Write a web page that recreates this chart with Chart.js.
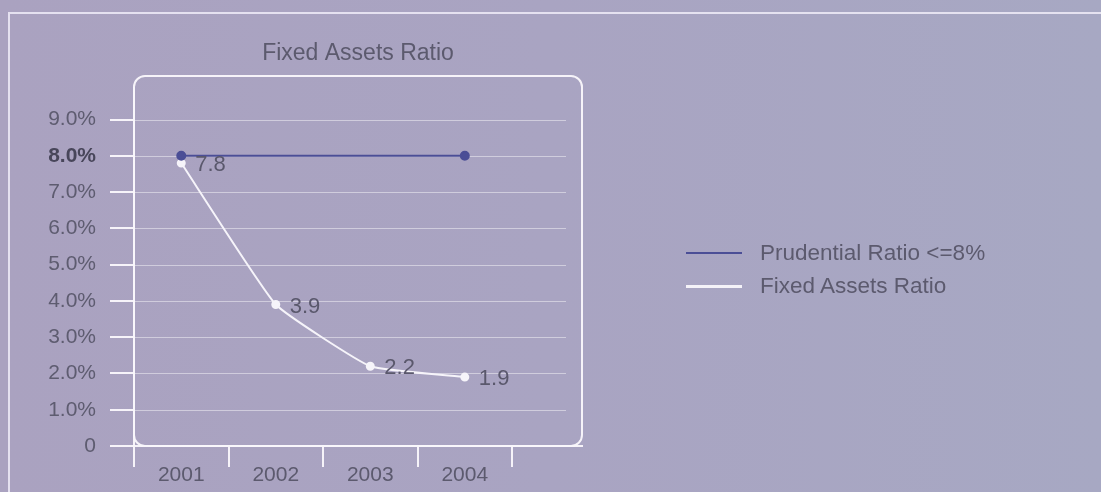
<!DOCTYPE html>
<html>
<head>
<meta charset="utf-8">
<script src="https://cdn.jsdelivr.net/npm/chart.js@4/dist/chart.umd.min.js"></script>
<style>
  html,body{margin:0;padding:0;}
  body{width:1101px;height:492px;overflow:hidden;position:relative;
       background:linear-gradient(90deg,#aaa2c0 0%,#a9a4c2 50%,#a7a8c3 100%);
       font-family:"Liberation Sans",Arial,sans-serif;}
  #frame{position:absolute;left:8px;top:12px;width:1200px;height:600px;
         border:2px solid rgba(240,236,248,0.85);box-sizing:border-box;}
  #wrap{position:absolute;left:0;top:0;width:1101px;height:492px;}
  .leg{position:absolute;left:686px;height:24px;display:flex;align-items:center;
       font-size:22.5px;color:#5c5a6e;white-space:nowrap;}
  .leg span.sw{display:inline-block;width:56px;margin-right:18px;}
</style>
</head>
<body>
<div id="frame"></div>
<div id="wrap"><canvas id="c" width="1101" height="492"></canvas></div>
<div class="leg" style="top:241px"><span class="sw" style="height:2px;background:#4b4e96"></span>Prudential Ratio &lt;=8%</div>
<div class="leg" style="top:274px"><span class="sw" style="height:3px;background:#f4f2f8"></span>Fixed Assets Ratio</div>
<script>
const years = ['2001','2002','2003','2004'];
const prudential = [8.0, 8.0];      // only first and last year are marked
const fixedAssets = [7.8, 3.9, 2.2, 1.9];
const yTicks = [0,1,2,3,4,5,6,7,8,9];

const slot = i => i + 0.5;
const tv = c => (c && c.tick) ? c.tick.value : null;
const FONT = '"Liberation Sans", Arial, sans-serif';
const WHITE = 'rgba(250,248,252,0.95)';

const boxAndLabels = {
  id:'boxAndLabels',
  beforeDatasetsDraw(chart){
    const {ctx, chartArea:a, scales:{y}} = chart;
    ctx.save();
    // light inner grid lines
    ctx.strokeStyle = 'rgba(255,255,255,0.45)';
    ctx.lineWidth = 1;
    yTicks.forEach(v=>{
      if(v===0) return;
      const py = Math.round(y.getPixelForValue(v))+0.5;
      ctx.beginPath(); ctx.moveTo(a.left, py); ctx.lineTo(a.right-16, py); ctx.stroke();
    });
    // rounded plot box
    ctx.strokeStyle = WHITE;
    ctx.lineWidth = 2;
    ctx.beginPath();
    ctx.roundRect(a.left, a.top, a.right-a.left, a.bottom-a.top, 11);
    ctx.stroke();
    // straight y axis line at the bottom part
    ctx.beginPath(); ctx.moveTo(a.left, a.bottom); ctx.lineTo(a.left, a.top+11); ctx.stroke();
    ctx.restore();
  },
  afterDatasetsDraw(chart){
    const {ctx} = chart;
    const meta = chart.getDatasetMeta(1);
    ctx.save();
    ctx.font = '22px ' + FONT;
    ctx.fillStyle = '#5a586c';
    ctx.textBaseline = 'middle';
    meta.data.forEach((pt,i)=>{
      ctx.fillText(fixedAssets[i].toFixed(1), pt.x+14, pt.y+2);
    });
    ctx.restore();
  }
};

new Chart(document.getElementById('c'), {
  type:'line',
  data:{
    datasets:[
      { label:'Prudential Ratio <=8%',
        data:[{x:slot(0), y:prudential[0]},{x:slot(3), y:prudential[1]}],
        borderColor:'#4b4e96', backgroundColor:'#4b4e96', borderWidth:2,
        pointRadius:4, pointHoverRadius:4 },
      { label:'Fixed Assets Ratio',
        data:fixedAssets.map((v,i)=>({x:slot(i), y:v})),
        borderColor:'#f6f4fa', backgroundColor:'#f6f4fa', borderWidth:2,
        pointRadius:3.5, pointHoverRadius:3.5, tension:0.12 }
    ]
  },
  options:{
    responsive:false, animation:false,
    layout:{padding:{left:0, right:519, top:0, bottom:0}},
    plugins:{
      legend:{display:false}, tooltip:{enabled:false},
      title:{display:true, text:'Fixed Assets Ratio', fullSize:false,
             color:'#5c5a6e', font:{size:23, family:FONT, weight:'normal', lineHeight:1.2},
             padding:{top:40, bottom:8.4}}
    },
    scales:{
      x:{ type:'linear', min:0, max:4.74,
          afterBuildTicks:s=>{ const t=[]; for(let v=0; v<=4; v+=0.5) t.push({value:v}); s.ticks=t; },
          afterFit:s=>{ s.height = 46; },
          border:{display:true, color:WHITE, width:2},
          grid:{drawOnChartArea:false, drawTicks:true, tickLength:21, lineWidth:2,
                color:c=> Number.isInteger(tv(c)) ? WHITE : 'rgba(0,0,0,0)'},
          ticks:{ autoSkip:false, maxRotation:0, padding:-4, color:'#5c5a6e',
                  font:{size:21, family:FONT},
                  callback:v=> Number.isInteger(v) ? '' : years[Math.floor(v)] }
      },
      y:{ min:0, max:10.2,
          afterBuildTicks:s=>{ s.ticks = yTicks.map(v=>({value:v})); },
          afterFit:s=>{ s.width = 134; },
          border:{display:false},
          grid:{drawOnChartArea:false, drawTicks:true, tickLength:24, lineWidth:2, color:WHITE},
          ticks:{ padding:14, color:c=> tv(c)===8 ? '#48465a' : '#5e5c70',
                  font:c=>({size:21, family:FONT, weight: tv(c)===8 ? 'bold' : 'normal'}),
                  callback:v=> v===0 ? '0' : v.toFixed(1)+'%' }
      }
    }
  },
  plugins:[boxAndLabels]
});
</script>
</body>
</html>
